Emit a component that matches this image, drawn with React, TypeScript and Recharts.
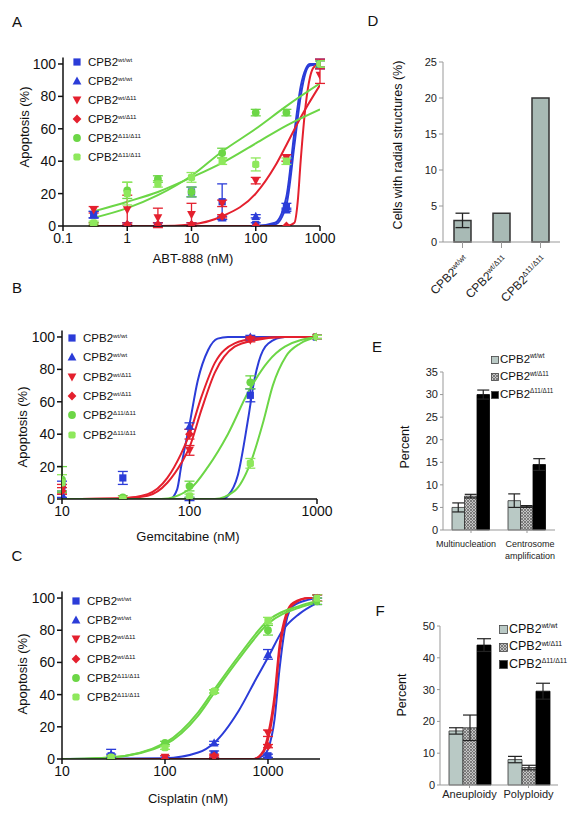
import React from 'react';
import { ComposedChart, BarChart, Bar, Line, Scatter, XAxis, YAxis, ErrorBar } from 'recharts';

const BLUE = '#2b3cd8';
const RED = '#e4202e';
const GREEN = '#6cd646';
const GREEN2 = '#8ee85c';
const FONT = '"Liberation Sans", Arial, Helvetica, sans-serif';

// ---------- Panel A (ABT-888) ----------
const A_DOSES = [0.3, 1, 3, 10, 30, 100, 300, 1000];
const A_WT_SQ = [7, 0, 0, 21, 15, 1, 12, 100];
const A_WT_SQ_ERR = [2, 0, 0, 3, 11, 1, 2, 3];
const A_WT_TRI = [7, 1, 1, 1, 5, 6, 10, 100];
const A_WT_TRI_ERR = [2, 1, 1, 1, 1, 1, 1, 2];
const A_HET_DOWN = [10, 10, 5, 7, 14, 28, 42, 93];
const A_HET_DOWN_ERR = [2, 9, 6, 7, 2, 2, 2, 5];
const A_HET_DIA = [1, 1, 1, 1, 6, 0, 0, 100];
const A_HET_DIA_ERR = [1, 1, 1, 1, 1, 0, 0, 3];
const A_HOM_CIRC = [1, 22, 29, 21, 45, 70, 70, 100];
const A_HOM_CIRC_ERR = [1, 5, 2, 3, 3, 2, 2, 2];
const A_HOM_SQ = [2, 20, 26, 30, 40, 38, 40, 100];
const A_HOM_SQ_ERR = [1, 7, 2, 3, 2, 4, 2, 2];

const A_FIT_WT_X = [0.3, 100, 200, 300, 400, 500, 600, 700, 1000];
const A_FIT_WT1_Y = [0, 0, 1, 13, 50, 80, 95, 99, 100];
const A_FIT_WT2_Y = [0, 0, 2, 18, 58, 86, 97, 100, 100];
const A_FIT_HET1_X = [0.3, 300, 400, 450, 500, 600, 700, 800, 1000];
const A_FIT_HET1_Y = [0, 0, 2, 15, 40, 75, 92, 98, 100];
const A_FIT_HET2_X = [0.3, 3, 10, 30, 100, 200, 300, 500, 1000];
const A_FIT_HET2_Y = [0, 0, 1, 6, 20, 37, 50, 67, 87];
const A_FIT_HOM_X = [0.3, 1, 3, 10, 30, 100, 300, 1000];
const A_FIT_HOM1_Y = [5, 11, 19, 31, 46, 60, 74, 88];
const A_FIT_HOM2_Y = [9, 15, 21, 30, 39, 51, 62, 72];

// ---------- Panel B (Gemcitabine) ----------
const B_DOSES = [10, 30, 100, 300, 1000];
const B_WT_SQ = [8, 13, 0, 64, 100];
const B_WT_SQ_ERR = [3, 4, 1, 4, 1];
const B_WT_TRI = [3, 0, 45, 100, 100];
const B_WT_TRI_ERR = [2, 0, 2, 1, 1];
const B_HET_DOWN = [6, 0, 30, 98, 100];
const B_HET_DOWN_ERR = [3, 0, 3, 1, 1];
const B_HET_DIA = [5, 0, 40, 99, 100];
const B_HET_DIA_ERR = [2, 0, 3, 1, 1];
const B_HOM_CIRC = [12, 1, 8, 72, 100];
const B_HOM_CIRC_ERR = [8, 1, 3, 4, 1];
const B_HOM_SQ = [10, 0, 2, 22, 100];
const B_HOM_SQ_ERR = [5, 0, 1, 3, 1];

const B_FIT_WT1_X = [10, 70, 80, 86, 100, 116, 140, 166, 200, 1000];
const B_FIT_WT1_Y = [0, 0, 6, 20, 46, 73, 92, 99, 100, 100];
const B_FIT_WT2_X = [10, 180, 200, 240, 289, 320, 350, 415, 560, 1000];
const B_FIT_WT2_Y = [0, 0, 2, 15, 50, 72, 85, 96, 100, 100];
const B_FIT_HET_X = [10, 30, 47, 67, 86, 100, 124, 158, 226, 326, 560, 1000];
const B_FIT_HET1_Y = [0, 0.5, 2, 10, 22, 32, 55, 78, 94, 98, 100, 100];
const B_FIT_HET2_Y = [0, 0.5, 3, 13, 28, 40, 63, 84, 96, 99, 100, 100];
const B_FIT_HOM1_X = [10, 60, 100, 140, 200, 289, 415, 560, 1000];
const B_FIT_HOM1_Y = [0, 0, 6, 20, 40, 66, 85, 94, 100];
const B_FIT_HOM2_X = [10, 158, 226, 300, 380, 450, 570, 740, 1000];
const B_FIT_HOM2_Y = [0, 0, 5, 22, 48, 70, 88, 96, 100];

// ---------- Panel C (Cisplatin) ----------
const C_DOSES = [30, 100, 300, 1000, 3000];
const C_WT_SQ = [2, 0, 3, 2, 100];
const C_WT_SQ_ERR = [1, 0, 2, 1, 2];
const C_WT_TRI = [3, 0, 10, 65, 98];
const C_WT_TRI_ERR = [3, 0, 1, 3, 2];
const C_HET_DOWN = [0, 1, 1, 16, 100];
const C_HET_DOWN_ERR = [0, 1, 1, 2, 2];
const C_HET_DIA = [0, 0, 2, 8, 100];
const C_HET_DIA_ERR = [0, 0, 1, 1, 2];
const C_HOM_CIRC = [1, 10, 42, 80, 98];
const C_HOM_CIRC_ERR = [1, 1, 1, 3, 2];
const C_HOM_SQ = [1, 7, 42, 86, 100];
const C_HOM_SQ_ERR = [1, 1, 1, 2, 2];

const C_FIT_HOM_X = [10, 30, 100, 210, 300, 520, 1000, 2000, 3000];
const C_FIT_HOM1_Y = [0, 1, 9, 27, 41, 62, 84, 94, 97];
const C_FIT_HOM2_Y = [0, 1, 10, 29, 43, 64, 86, 95, 98];
const C_FIT_WT2_X = [10, 100, 210, 300, 520, 770, 1000, 1390, 2000, 3000];
const C_FIT_WT2_Y = [0, 0.5, 4, 10, 30, 50, 63, 80, 90, 97];
const C_FIT_STEEP_X = [10, 720, 900, 1000, 1160, 1290, 1500, 1750, 2500, 3000];
const C_FIT_HET1_Y = [0, 0, 5, 15, 40, 70, 90, 97, 100, 100];
const C_FIT_HET2_Y = [0, 0, 4, 12, 36, 66, 88, 96, 100, 100];
const C_FIT_WT1_Y = [0, 0, 2, 6, 25, 55, 85, 95, 99, 100];

// ---------- Panel D ----------
const D_GENOTYPES = ['wt/wt', 'wt/Δ11', 'Δ11/Δ11'];
const D_VALUES = [3, 4, 20];
const D_ERR = [1, null, null];

// ---------- Panel E ----------
const E_CATEGORIES = ['Multinucleation', 'Centrosome amplification'];
const E_WT = [5, 6.5];
const E_WT_ERR = [1, 1.5];
const E_HET = [7.5, 5.2];
const E_HET_ERR = [0.4, 0.2];
const E_HOM = [30, 14.5];
const E_HOM_ERR = [1, 1.3];

// ---------- Panel F ----------
const F_CATEGORIES = ['Aneuploidy', 'Polyploidy'];
const F_WT = [17, 8];
const F_WT_ERR = [1, 1];
const F_HET = [18, 5.5];
const F_HET_ERR = [4, 0.7];
const F_HOM = [44, 29.5];
const F_HOM_ERR = [2, 2.5];

const LEGEND_ROWS = [
  { shape: 'square', color: BLUE, sup: 'wt/wt' },
  { shape: 'tri', color: BLUE, sup: 'wt/wt' },
  { shape: 'down', color: RED, sup: 'wt/Δ11' },
  { shape: 'diamond', color: RED, sup: 'wt/Δ11' },
  { shape: 'circle', color: GREEN, sup: 'Δ11/Δ11' },
  { shape: 'rsquare', color: GREEN2, sup: 'Δ11/Δ11' },
];
const BAR_LEGEND = [
  { fill: '#b9c9c5', sup: 'wt/wt' },
  { fill: 'url(#hatchLegend)', sup: 'wt/Δ11' },
  { fill: '#000', sup: 'Δ11/Δ11' },
];

const pts = (xs: number[], ys: number[], es?: number[]) =>
  xs.map((x, i) => ({ x, y: ys[i], e: es ? es[i] : 0 }));

function Marker({ type, color, cx, cy }: any) {
  const s = 3.6;
  if (cx == null || cy == null) return null;
  switch (type) {
    case 'square':
      return <rect x={cx - s} y={cy - s} width={2 * s} height={2 * s} fill={color} />;
    case 'rsquare':
      return <rect x={cx - s} y={cy - s} width={2 * s} height={2 * s} rx={1.8} fill={color} />;
    case 'tri':
      return <polygon points={`${cx},${cy - s - 1} ${cx + s + 0.8},${cy + s} ${cx - s - 0.8},${cy + s}`} fill={color} />;
    case 'down':
      return <polygon points={`${cx},${cy + s + 1} ${cx + s + 0.8},${cy - s} ${cx - s - 0.8},${cy - s}`} fill={color} />;
    case 'diamond':
      return <polygon points={`${cx},${cy - s - 0.8} ${cx + s + 0.8},${cy} ${cx},${cy + s + 0.8} ${cx - s - 0.8},${cy}`} fill={color} />;
    default:
      return <circle cx={cx} cy={cy} r={s + 0.3} fill={color} />;
  }
}

const shapeFn = (type: string, color: string) => (p: any) => <Marker type={type} color={color} cx={p.cx} cy={p.cy} />;

function fitLine(key: string, data: any[], color: string) {
  return (
    <Line key={key} data={data} dataKey="y" type="monotone" dot={false} stroke={color} strokeWidth={2}
      isAnimationActive={false} activeDot={false} />
  );
}

function dots(key: string, data: any[], type: string, color: string) {
  return (
    <Scatter key={key} data={data} dataKey="y" shape={shapeFn(type, color)} fill={color} isAnimationActive={false}>
      <ErrorBar dataKey="e" direction="y" width={5} stroke={color} strokeWidth={1.3} />
    </Scatter>
  );
}

function DoseLegend({ mx, tx, y0, step }: any) {
  return (
    <>
      {LEGEND_ROWS.map((r, i) => {
        const y = y0 + i * step;
        return (
          <React.Fragment key={i}>
            <svg style={{ position: 'absolute', left: mx - 6, top: y - 6 }} width={12} height={12}>
              <Marker type={r.shape} color={r.color} cx={6} cy={6} />
            </svg>
            <div style={{ position: 'absolute', left: tx, top: y - 7, fontSize: 11.5, lineHeight: '14px', whiteSpace: 'nowrap', color: '#111' }}>
              CPB2<span style={{ fontSize: 6.2, position: 'relative', top: -4 }}>{r.sup}</span>
            </div>
          </React.Fragment>
        );
      })}
    </>
  );
}

function BarLegend({ left, y0, step, fontSize, box }: any) {
  return (
    <>
      {BAR_LEGEND.map((r, i) => {
        const y = y0 + i * step;
        return (
          <React.Fragment key={i}>
            <svg style={{ position: 'absolute', left, top: y - box / 2 }} width={box + 1} height={box + 1}>
              <defs>
                <pattern id="hatchLegend" patternUnits="userSpaceOnUse" width={3} height={3}>
                  <rect width={3} height={3} fill="#c4c4c4" />
                  <path d="M0,0 L3,3 M3,0 L0,3" stroke="#6a6a6a" strokeWidth={0.8} />
                </pattern>
              </defs>
              <rect x={0.5} y={0.5} width={box} height={box} fill={r.fill} stroke="#444" strokeWidth={0.8} />
            </svg>
            <div style={{ position: 'absolute', left: left + box + 2, top: y - fontSize * 0.65, fontSize, lineHeight: `${fontSize * 1.3}px`, whiteSpace: 'nowrap', color: '#111' }}>
              CPB2<span style={{ fontSize: fontSize * 0.55, position: 'relative', top: -fontSize * 0.38 }}>{r.sup}</span>
            </div>
          </React.Fragment>
        );
      })}
    </>
  );
}

function Txt({ x, y, children, size = 13, rotate = false, weight = 'normal', color = '#111' }: any) {
  return (
    <div style={{
      position: 'absolute', left: x, top: y, transform: `translate(-50%, -50%)${rotate ? ' rotate(-90deg)' : ''}`,
      fontSize: size, whiteSpace: 'nowrap', fontWeight: weight, color, lineHeight: 1,
    }}>{children}</div>
  );
}

const axisProps = { stroke: '#111', strokeWidth: 1.5, tickLine: { stroke: '#111', strokeWidth: 1.5 } };
const doseTick = { fill: '#111', fontSize: 14 };
const fmt = (v: number) => String(v);

function DoseChart({ top, height, margin, domain, ticks, series, fits }: any) {
  return (
    <div style={{ position: 'absolute', left: 0, top }}>
      <ComposedChart width={345} height={height} margin={margin}>
        <XAxis dataKey="x" type="number" scale="log" domain={domain} ticks={ticks} tickFormatter={fmt}
          allowDataOverflow height={30} tickSize={5} tick={doseTick} {...axisProps} />
        <YAxis dataKey="y" type="number" domain={[0, 104]} ticks={[0, 20, 40, 60, 80, 100]} allowDataOverflow
          width={40} tickSize={5} tick={doseTick} {...axisProps} />
        {fits}
        {series}
      </ComposedChart>
    </div>
  );
}

const DTick = ({ x, y, payload }: any) => (
  <text transform={`translate(${x + 7},${y + 11}) rotate(-45)`} textAnchor="end" fontSize={12} fill="#222" fontFamily={FONT}>
    CPB2<tspan fontSize={7.5} dy={-4.5}>{payload.value}</tspan>
  </text>
);

const ETick = ({ x, y, payload }: any) => {
  const two = payload.value === 'Centrosome amplification';
  const lines = two ? ['Centrosome', 'amplification'] : [payload.value];
  const cx = two ? x + 3 : x - 5;
  return (
    <text x={cx} y={y} textAnchor="middle" fontSize={9} fill="#222" fontFamily={FONT}>
      {lines.map((l: string, i: number) => <tspan key={i} x={cx} dy={i === 0 ? 12 : 11.5}>{l}</tspan>)}
    </text>
  );
};

const grayAxis = { stroke: '#999', strokeWidth: 1, tickLine: { stroke: '#999' } };
const barTick = { fill: '#222', fontSize: 11 };

function HatchDefs() {
  return (
    <defs>
      <pattern id="hatch" patternUnits="userSpaceOnUse" width={3} height={3}>
        <rect width={3} height={3} fill="#c4c4c4" />
        <path d="M0,0 L3,3 M3,0 L0,3" stroke="#6a6a6a" strokeWidth={0.8} />
      </pattern>
    </defs>
  );
}

export default function App() {
  const aSeries = [
    dots('a1', pts(A_DOSES, A_WT_SQ, A_WT_SQ_ERR), 'square', BLUE),
    dots('a2', pts(A_DOSES, A_WT_TRI, A_WT_TRI_ERR), 'tri', BLUE),
    dots('a3', pts(A_DOSES, A_HET_DOWN, A_HET_DOWN_ERR), 'down', RED),
    dots('a4', pts(A_DOSES, A_HET_DIA, A_HET_DIA_ERR), 'diamond', RED),
    dots('a5', pts(A_DOSES, A_HOM_CIRC, A_HOM_CIRC_ERR), 'circle', GREEN),
    dots('a6', pts(A_DOSES, A_HOM_SQ, A_HOM_SQ_ERR), 'rsquare', GREEN2),
  ];
  const aFits = [
    fitLine('af1', pts(A_FIT_WT_X, A_FIT_WT1_Y), BLUE),
    fitLine('af2', pts(A_FIT_WT_X, A_FIT_WT2_Y), BLUE),
    fitLine('af3', pts(A_FIT_HET1_X, A_FIT_HET1_Y), RED),
    fitLine('af4', pts(A_FIT_HET2_X, A_FIT_HET2_Y), RED),
    fitLine('af5', pts(A_FIT_HOM_X, A_FIT_HOM1_Y), GREEN),
    fitLine('af6', pts(A_FIT_HOM_X, A_FIT_HOM2_Y), GREEN),
  ];
  const bSeries = [
    dots('b1', pts(B_DOSES, B_WT_SQ, B_WT_SQ_ERR), 'square', BLUE),
    dots('b2', pts(B_DOSES, B_WT_TRI, B_WT_TRI_ERR), 'tri', BLUE),
    dots('b3', pts(B_DOSES, B_HET_DOWN, B_HET_DOWN_ERR), 'down', RED),
    dots('b4', pts(B_DOSES, B_HET_DIA, B_HET_DIA_ERR), 'diamond', RED),
    dots('b5', pts(B_DOSES, B_HOM_CIRC, B_HOM_CIRC_ERR), 'circle', GREEN),
    dots('b6', pts(B_DOSES, B_HOM_SQ, B_HOM_SQ_ERR), 'rsquare', GREEN2),
  ];
  const bFits = [
    fitLine('bf1', pts(B_FIT_WT1_X, B_FIT_WT1_Y), BLUE),
    fitLine('bf2', pts(B_FIT_WT2_X, B_FIT_WT2_Y), BLUE),
    fitLine('bf3', pts(B_FIT_HET_X, B_FIT_HET1_Y), RED),
    fitLine('bf4', pts(B_FIT_HET_X, B_FIT_HET2_Y), RED),
    fitLine('bf5', pts(B_FIT_HOM1_X, B_FIT_HOM1_Y), GREEN),
    fitLine('bf6', pts(B_FIT_HOM2_X, B_FIT_HOM2_Y), GREEN),
  ];
  const cSeries = [
    dots('c1', pts(C_DOSES, C_WT_SQ, C_WT_SQ_ERR), 'square', BLUE),
    dots('c2', pts(C_DOSES, C_WT_TRI, C_WT_TRI_ERR), 'tri', BLUE),
    dots('c3', pts(C_DOSES, C_HET_DOWN, C_HET_DOWN_ERR), 'down', RED),
    dots('c4', pts(C_DOSES, C_HET_DIA, C_HET_DIA_ERR), 'diamond', RED),
    dots('c5', pts(C_DOSES, C_HOM_CIRC, C_HOM_CIRC_ERR), 'circle', GREEN),
    dots('c6', pts(C_DOSES, C_HOM_SQ, C_HOM_SQ_ERR), 'rsquare', GREEN2),
  ];
  const cFits = [
    fitLine('cf1', pts(C_FIT_STEEP_X, C_FIT_WT1_Y), BLUE),
    fitLine('cf2', pts(C_FIT_WT2_X, C_FIT_WT2_Y), BLUE),
    fitLine('cf3', pts(C_FIT_STEEP_X, C_FIT_HET1_Y), RED),
    fitLine('cf4', pts(C_FIT_STEEP_X, C_FIT_HET2_Y), RED),
    fitLine('cf5', pts(C_FIT_HOM_X, C_FIT_HOM1_Y), GREEN),
    fitLine('cf6', pts(C_FIT_HOM_X, C_FIT_HOM2_Y), GREEN),
  ];

  const dData = D_GENOTYPES.map((g, i) => ({ g, v: D_VALUES[i], e: D_ERR[i] }));
  const eData = E_CATEGORIES.map((c, i) => ({
    c, wt: E_WT[i], wtE: E_WT_ERR[i], het: E_HET[i], hetE: E_HET_ERR[i], hom: E_HOM[i], homE: E_HOM_ERR[i],
  }));
  const fData = F_CATEGORIES.map((c, i) => ({
    c, wt: F_WT[i], wtE: F_WT_ERR[i], het: F_HET[i], hetE: F_HET_ERR[i], hom: F_HOM[i], homE: F_HOM_ERR[i],
  }));

  return (
    <div style={{ position: 'absolute', left: 0, top: 0, width: 583, height: 813, background: '#fff', fontFamily: FONT, overflow: 'hidden' }}>
      {/* Panel A */}
      <DoseChart top={0} height={270} margin={{ top: 57.5, right: 25, bottom: 14, left: 23 }}
        domain={[0.1, 1000]} ticks={[0.1, 1, 10, 100, 1000]} series={aSeries} fits={aFits} />
      <DoseLegend mx={77} tx={88} y0={62} step={19} />
      <Txt x={17} y={21} size={15}>A</Txt>
      <Txt x={24} y={127} rotate>Apoptosis (%)</Txt>
      <Txt x={193} y={258}>ABT-888 (nM)</Txt>

      {/* Panel B */}
      <DoseChart top={270} height={270} margin={{ top: 60.5, right: 28, bottom: 11, left: 22 }}
        domain={[10, 1000]} ticks={[10, 100, 1000]} series={bSeries} fits={bFits} />
      <DoseLegend mx={72} tx={83} y0={338} step={19.3} />
      <Txt x={17} y={287} size={15}>B</Txt>
      <Txt x={22} y={427} rotate>Apoptosis (%)</Txt>
      <Txt x={188} y={536}>Gemcitabine (nM)</Txt>

      {/* Panel C */}
      <DoseChart top={540} height={273} margin={{ top: 51.6, right: 25, bottom: 24, left: 22 }}
        domain={[10, 3200]} ticks={[10, 100, 1000]} series={cSeries} fits={cFits} />
      <DoseLegend mx={76} tx={87} y0={601} step={19.2} />
      <Txt x={17} y={555} size={15}>C</Txt>
      <Txt x={22} y={674} rotate>Apoptosis (%)</Txt>
      <Txt x={188} y={798}>Cisplatin (nM)</Txt>

      {/* Panel D */}
      <div style={{ position: 'absolute', left: 330, top: 0 }}>
        <BarChart width={253} height={315} data={dData} margin={{ top: 62, right: 23, bottom: 8, left: 83 }}>
          <XAxis dataKey="g" height={65} tick={<DTick />} tickLine={false} {...grayAxis} interval={0} />
          <YAxis type="number" domain={[0, 25]} ticks={[0, 5, 10, 15, 20, 25]} width={30} tickSize={4} tick={barTick} {...grayAxis} />
          <Bar dataKey="v" barSize={17} fill="#a8bab5" stroke="#333" strokeWidth={1.5} isAnimationActive={false}>
            <ErrorBar dataKey="e" width={7} stroke="#222" strokeWidth={1.3} />
          </Bar>
        </BarChart>
      </div>
      <Txt x={373} y={20} size={15}>D</Txt>
      <Txt x={398} y={145} rotate size={12.5}>Cells with radial structures (%)</Txt>

      {/* Panel E */}
      <div style={{ position: 'absolute', left: 330, top: 270 }}>
        <BarChart width={253} height={300} data={eData} margin={{ top: 102, right: 28, bottom: 10, left: 83 }} barGap={0}>
          <HatchDefs />
          <XAxis dataKey="c" height={30} tick={<ETick />} tickSize={3} {...grayAxis} interval={0} />
          <YAxis type="number" domain={[0, 35]} ticks={[0, 5, 10, 15, 20, 25, 30, 35]} width={30} tickSize={3} tick={barTick} {...grayAxis} />
          <Bar dataKey="wt" barSize={12.5} fill="#b9c9c5" stroke="#333" strokeWidth={0.8} isAnimationActive={false}>
            <ErrorBar dataKey="wtE" width={6} stroke="#222" strokeWidth={1.2} />
          </Bar>
          <Bar dataKey="het" barSize={12.5} fill="url(#hatch)" stroke="#333" strokeWidth={0.8} isAnimationActive={false}>
            <ErrorBar dataKey="hetE" width={6} stroke="#222" strokeWidth={1.2} />
          </Bar>
          <Bar dataKey="hom" barSize={12.5} fill="#000" stroke="#000" strokeWidth={0.8} isAnimationActive={false}>
            <ErrorBar dataKey="homE" width={6} stroke="#222" strokeWidth={1.2} />
          </Bar>
        </BarChart>
      </div>
      <BarLegend left={491} y0={359} step={17.5} fontSize={11.5} box={7} />
      <Txt x={377} y={346} size={15}>E</Txt>
      <Txt x={405} y={447} rotate size={12.5}>Percent</Txt>

      {/* Panel F */}
      <div style={{ position: 'absolute', left: 330, top: 540 }}>
        <BarChart width={253} height={273} data={fData} margin={{ top: 86, right: 25, bottom: 8, left: 80 }} barGap={0}>
          <HatchDefs />
          <XAxis dataKey="c" height={20} tickSize={3} tick={{ fill: '#222', fontSize: 11 }} {...grayAxis} interval={0} />
          <YAxis type="number" domain={[0, 50]} ticks={[0, 5, 10, 15, 20, 25, 30, 35, 40, 45, 50]} width={30} tickSize={3} tick={barTick} {...grayAxis} />
          <Bar dataKey="wt" barSize={14} fill="#b9c9c5" stroke="#333" strokeWidth={0.8} isAnimationActive={false}>
            <ErrorBar dataKey="wtE" width={7} stroke="#222" strokeWidth={1.2} />
          </Bar>
          <Bar dataKey="het" barSize={14} fill="url(#hatch)" stroke="#333" strokeWidth={0.8} isAnimationActive={false}>
            <ErrorBar dataKey="hetE" width={7} stroke="#222" strokeWidth={1.2} />
          </Bar>
          <Bar dataKey="hom" barSize={14} fill="#000" stroke="#000" strokeWidth={0.8} isAnimationActive={false}>
            <ErrorBar dataKey="homE" width={7} stroke="#222" strokeWidth={1.2} />
          </Bar>
        </BarChart>
      </div>
      <BarLegend left={499} y0={629} step={17.5} fontSize={12.5} box={8} />
      <Txt x={380} y={610} size={15}>F</Txt>
      <Txt x={402} y={695} rotate size={12.5}>Percent</Txt>
    </div>
  );
}
